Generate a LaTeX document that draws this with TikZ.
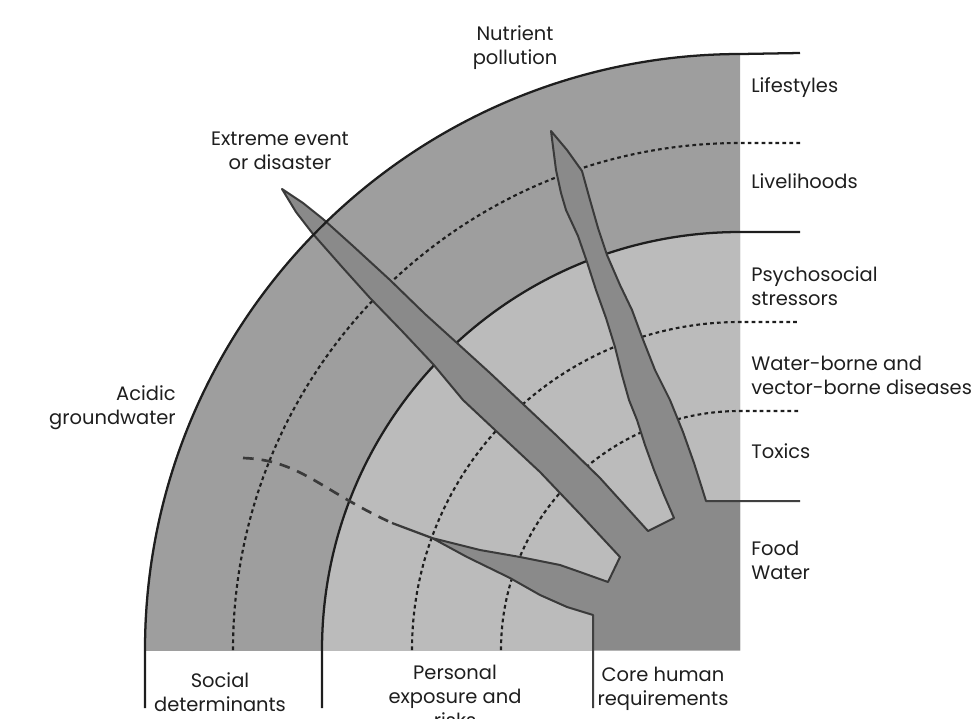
\documentclass[tikz,border=0pt]{standalone}
\usepackage{fontspec}
\setmainfont{Poppins}
\usepackage{tikz}
\usetikzlibrary{calc, positioning}
\definecolor{outerring}{RGB}{158,158,158}
\definecolor{innerring}{RGB}{187,187,187}
\definecolor{spikefill}{RGB}{138,138,138}
\definecolor{edgegray}{RGB}{58,58,58}
\definecolor{inkgray}{RGB}{30,30,30}

\begin{document}
\begin{tikzpicture}[
        x=0.75pt, y=-0.75pt,
        lbl/.style = {font=\fontsize{14.6}{18}\selectfont, text=inkgray, inner sep=0pt},
        sidelbl/.style = {lbl, anchor=west, align=left},
        ringline/.style = {draw=inkgray, line width=1.7pt},
        ringdots/.style = {draw=inkgray, line width=1.6pt, dash pattern=on 2.8pt off 2.4pt},
        spikeedge/.style = {draw=edgegray, line width=1.5pt, line join=round},
        acidline/.style = {draw=edgegray, line width=2pt, dash pattern=on 8pt off 6pt}
    ]
        \clip (0,0) rectangle (975,718);

        % Rings
        \begin{scope}
            \clip (0,0) rectangle (740,650);
            \fill[outerring] (740,650) circle[radius=447pt];
            \fill[innerring] (740,650) circle[radius=313.5pt];
        \end{scope}

        % Dotted boundaries
        \draw[ringdots] (233,650) arc[start angle=180, end angle=90, radius=380.25pt] -- (800,143);
        \draw[ringdots] (412,650) arc[start angle=180, end angle=90, radius=246pt] -- (800,322);
        \draw[ringdots] (501,650) arc[start angle=180, end angle=90, radius=179.25pt] -- (800,411);
        \draw[ringline] (322,708) -- (322,650) arc[start angle=180, end angle=90, radius=313.5pt] -- (800,232);

        % Core and spikes
        \fill[spikefill] (740,501) -- (706,501)
            -- (701,485) -- (694,463) -- (683,432) -- (670,400) -- (655,370) -- (642,337)
            -- (632,310) -- (620,285) -- (607,255) -- (598,228) -- (590,200) -- (582,171)
            -- (567,150) -- (551,131)
            -- (556,170) -- (561,193) -- (566,210) -- (578,236) -- (587,262) -- (596,290)
            -- (606,318) -- (615,347) -- (622,375) -- (629,400) -- (637,420) -- (645,445)
            -- (654,470) -- (664,495) -- (674,518) -- (648,531)
            -- (600,478) -- (557,436) -- (523,404) -- (490,373) -- (457,343) -- (425,314)
            -- (390,280) -- (353,246) -- (323,219) -- (303,203) -- (282,189)
            -- (296,212) -- (313,234) -- (343,268) -- (370,298) -- (401,330) -- (433,364)
            -- (463,400) -- (495,430) -- (540,472) -- (580,514) -- (620,557) -- (608,582)
            -- (580,572) -- (560,565) -- (520,557) -- (480,550) -- (432,538)
            -- (467,557) -- (510,578) -- (540,595) -- (567,607) -- (593,615)
            -- (593,650) -- (740,650) -- cycle;
        \draw[spikeedge] (800,501) -- (706,501)
            -- (701,485) -- (694,463) -- (683,432) -- (670,400) -- (655,370) -- (642,337)
            -- (632,310) -- (620,285) -- (607,255) -- (598,228) -- (590,200) -- (582,171)
            -- (567,150) -- (551,131)
            -- (556,170) -- (561,193) -- (566,210) -- (578,236) -- (587,262) -- (596,290)
            -- (606,318) -- (615,347) -- (622,375) -- (629,400) -- (637,420) -- (645,445)
            -- (654,470) -- (664,495) -- (674,518) -- (648,531)
            -- (600,478) -- (557,436) -- (523,404) -- (490,373) -- (457,343) -- (425,314)
            -- (390,280) -- (353,246) -- (323,219) -- (303,203) -- (282,189)
            -- (296,212) -- (313,234) -- (343,268) -- (370,298) -- (401,330) -- (433,364)
            -- (463,400) -- (495,430) -- (540,472) -- (580,514) -- (620,557) -- (608,582)
            -- (580,572) -- (560,565) -- (520,557) -- (480,550) -- (432,538)
            -- (467,557) -- (510,578) -- (540,595) -- (567,607) -- (593,615)
            -- (593,708);
        \draw[ringline, draw=inkgray!85] (800,501) -- (706,501);
        \draw[ringline, draw=inkgray!85] (593,615) -- (593,708);

        % Outer boundary
        \draw[ringline] (145,708) -- (145,650) arc[start angle=180, end angle=90, radius=447pt] -- (800,53);

        % Acidic groundwater trail
        \coordinate (acid) at (243,458);
        \coordinate (acidend) at (392,523);
        \coordinate (acidtip) at (432,538);
        \draw[acidline] (acid) .. controls (300,460) and (320,490) .. (acidend);
        \draw[spikeedge, line width=1.7pt] (acidend) -- (acidtip);

        % Layer labels
        \node (lifestyles) [sidelbl] at (751,88) {Lifestyles};
        \node (livelihoods) [sidelbl] at (751,181) {Livelihoods};
        \node (psycho) [sidelbl] at (751,286) {Psychosocial\\stressors};
        \node (waterborne) [sidelbl] at (751,375) {Water-borne and\\vector-borne diseases};
        \node (toxics) [sidelbl] at (751,451) {Toxics};
        \node (foodwater) [sidelbl] at (751,560) {Food\\Water};

        % Hazard labels
        \node (nutrient) [lbl, align=center] at (515,48) {Nutrient\\pollution};
        \node (extreme) [lbl, align=center] at (280,151) {Extreme event\\or disaster};
        \node (acidic) [lbl, align=right, anchor=east] at (176,408) {Acidic\\groundwater};

        % Column labels
        \node (social) [lbl, align=center] at (220,692) {Social\\determinants};
        \node (personal) [lbl, align=center] at (455,696) {Personal\\exposure and\\risks};
        \node (corehuman) [lbl, align=center] at (663,689) {Core human\\requirements};

    \end{tikzpicture}
\end{document}
